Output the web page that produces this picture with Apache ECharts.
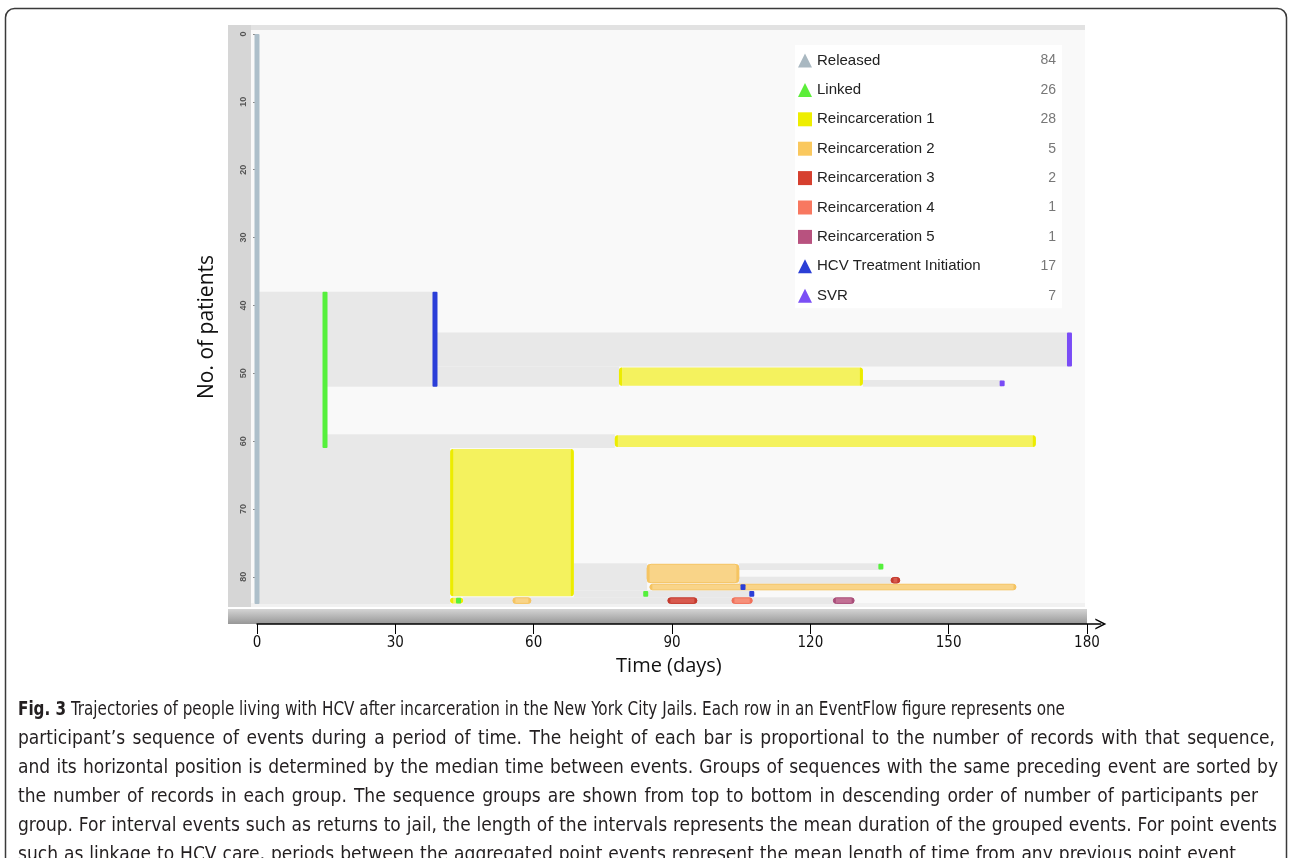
<!DOCTYPE html>
<html>
<head>
<meta charset="utf-8">
<script src="https://cdn.jsdelivr.net/npm/echarts@6/dist/echarts.min.js"></script>
<style>
html,body{margin:0;padding:0;background:#fff}
#wrap{position:relative;width:1292px;height:858px;overflow:hidden}
#c{position:absolute;left:0;top:0;width:1292px;height:858px}
.cap{position:absolute;left:18px;font-family:"DejaVu Sans Condensed","Open Sans",sans-serif;font-size:19px;line-height:22px;
  color:#231f20;transform-origin:0 0;white-space:normal}
.cap.j{text-align:justify;text-align-last:justify}
.cap b{font-weight:bold}
</style>
</head>
<body>
<div id="wrap"><div id="c"></div></div>
<script>
// ---------- data ----------
const eventNames = ['Released', 'Linked', 'Reincarceration 1', 'Reincarceration 2', 'Reincarceration 3',
  'Reincarceration 4', 'Reincarceration 5', 'HCV Treatment Initiation', 'SVR'];
const eventCounts = [84, 26, 28, 5, 2, 1, 1, 17, 7];
const eventIcons = ['triangle', 'triangle', 'rect', 'rect', 'rect', 'rect', 'rect', 'triangle', 'triangle'];

// point events: [day, firstRow, lastRow]
const releasedPts = [[0, 0, 84]];
const linkedPts = [[14.75, 38, 61], [135.3, 78, 79], [84.3, 82, 83], [43.7, 83, 84]];
const hcvPts = [[38.6, 38, 52], [105.4, 81, 82], [107.3, 82, 83]];
const svrPts = [[176.2, 44, 49], [161.6, 51, 52]];

// interval events: [startDay, endDay, firstRow, lastRow]
const reinc1 = [[78.5, 131.4, 49, 52], [77.6, 168.9, 59, 61], [41.9, 68.7, 61, 83], [41.9, 44.7, 83, 84]];
const reinc2 = [[84.6, 104.5, 78, 81], [85.2, 164.6, 81, 82], [55.5, 59.4, 83, 84]];
const reinc3 = [[137.5, 139.4, 80, 81], [89.1, 95.4, 83, 84]];
const reinc4 = [[103, 107.4, 83, 84]];
const reinc5 = [[125, 129.5, 83, 84]];

// time between events (sequence background): [startDay, endDay, firstRow, lastRow]
const gaps = [
  [0, 14.75, 38, 61], [14.75, 38.6, 38, 52], [38.6, 176.2, 44, 49], [38.6, 78.5, 49, 52],
  [131.4, 161.6, 51, 52], [14.75, 77.6, 59, 61], [0, 41.9, 61, 84], [68.7, 84.6, 78, 82],
  [104.5, 135.3, 78, 79], [104.5, 137.5, 80, 81], [68.7, 107.3, 82, 83], [44.7, 125, 83, 84]
];

const dayTicks = [0, 30, 60, 90, 120, 150, 180];
const patientTicks = [0, 10, 20, 30, 40, 50, 60, 70, 80];

const captionLead = 'Fig. 3';
const captionLines = [
  'Trajectories of people living with HCV after incarceration in the New York City Jails. Each row in an EventFlow figure represents one',
  'participant\u2019s sequence of events during a period of time. The height of each bar is proportional to the number of records with that sequence,',
  'and its horizontal position is determined by the median time between events. Groups of sequences with the same preceding event are sorted by',
  'the number of records in each group. The sequence groups are shown from top to bottom in descending order of number of participants per',
  'group. For interval events such as returns to jail, the length of the intervals represents the mean duration of the grouped events. For point events',
  'such as linkage to HCV care, periods between the aggregated point events represent the mean length of time from any previous point event'
];

// ---------- styling ----------
const legendColors = ['#a9b8c1', '#5cee3a', '#eeee00', '#fac85e', '#d6402f', '#f87860', '#b8527f', '#2b3fd6', '#7b4ff5'];
const pointColors = ['#adbfca', '#55f03c', null, null, null, null, null, '#2a3ed8', '#7a4cf6'];
const intervalFill = { 2: '#f4f25e', 3: '#f9d488', 4: '#d85a4e', 5: '#f6907a', 6: '#c27094' };
const intervalEdge = { 2: '#ecec00', 3: '#f5c462', 4: '#c43a2e', 5: '#f0705a', 6: '#a94e7a' };
const axisFont = '"DejaVu Sans Condensed", "Open Sans", sans-serif';

// caption (justified lines like the printed figure caption)
const capLineWidths = [1200, 1257, 1260, 1240, 1259, 1218];
const capLineScale = [0.89, 1, 1, 1, 1, 1];
const wrap = document.getElementById('wrap');
captionLines.forEach(function (line, i) {
  const d = document.createElement('div');
  d.className = 'cap' + (i > 0 ? ' j' : '');
  d.style.top = (697 + i * 29) + 'px';
  d.style.width = (capLineWidths[i] / capLineScale[i]) + 'px';
  d.style.transform = 'scaleX(' + capLineScale[i] + ')';
  if (i === 0) {
    const b = document.createElement('b');
    b.textContent = captionLead;
    d.appendChild(b);
    d.appendChild(document.createTextNode(' ' + line));
  } else {
    d.textContent = line;
  }
  wrap.appendChild(d);
});

function pointRender(color) {
  return function (params, api) {
    const a = api.coord([api.value(0), api.value(1)]);
    const b = api.coord([api.value(0), api.value(2)]);
    const h = b[1] - a[1];
    const ins = h > 10 ? 0 : 0.5;
    return {
      type: 'rect',
      shape: { x: a[0] - 2.5, y: a[1] + ins, width: 5, height: h - 2 * ins, r: 1 },
      style: { fill: color }
    };
  };
}

function intervalRender(idx) {
  return function (params, api) {
    const a = api.coord([api.value(0), api.value(2)]);
    const b = api.coord([api.value(1), api.value(3)]);
    const h = b[1] - a[1];
    const ins = h > 10 ? 1 : 0.6;
    const x = a[0], y = a[1] + ins, w = b[0] - a[0], hh = h - 2 * ins;
    const r = Math.min(4, hh / 2);
    const ew = Math.min(idx === 2 ? 3 : 2.5, w / 2);
    return {
      type: 'group',
      children: [
        { type: 'rect', shape: { x: x, y: y, width: w, height: hh, r: r }, style: { fill: intervalFill[idx], stroke: idx === 2 ? null : intervalEdge[idx], lineWidth: idx === 2 ? 0 : 1 } },
        { type: 'rect', shape: { x: x, y: y, width: ew, height: hh, r: [r, 0, 0, r] }, style: { fill: intervalEdge[idx] } },
        { type: 'rect', shape: { x: x + w - ew, y: y, width: ew, height: hh, r: [0, r, r, 0] }, style: { fill: intervalEdge[idx] } }
      ]
    };
  };
}

function gapRender(params, api) {
  const a = api.coord([api.value(0), api.value(2)]);
  const b = api.coord([api.value(1), api.value(3)]);
  return {
    type: 'rect',
    shape: { x: a[0], y: a[1], width: b[0] - a[0], height: b[1] - a[1] },
    style: { fill: '#e8e8e8' }
  };
}

const pointData = { 0: releasedPts, 1: linkedPts, 7: hcvPts, 8: svrPts };
const intervalData = { 2: reinc1, 3: reinc2, 4: reinc3, 5: reinc4, 6: reinc5 };

const series = [{
  type: 'custom', name: 'gaps', coordinateSystem: 'cartesian2d', xAxisIndex: 0, yAxisIndex: 0,
  renderItem: gapRender, data: gaps, encode: { x: [0, 1], y: [2, 3] }, silent: true, z: 1
}];
eventNames.forEach(function (name, i) {
  if (pointData[i]) {
    series.push({
      type: 'custom', name: name, coordinateSystem: 'cartesian2d', xAxisIndex: 0, yAxisIndex: 0,
      renderItem: pointRender(pointColors[i]), data: pointData[i], encode: { x: 0, y: [1, 2] },
      itemStyle: { color: legendColors[i] }, silent: true, z: 3
    });
  } else {
    series.push({
      type: 'custom', name: name, coordinateSystem: 'cartesian2d', xAxisIndex: 0, yAxisIndex: 0,
      renderItem: intervalRender(i), data: intervalData[i], encode: { x: [0, 1], y: [2, 3] },
      itemStyle: { color: legendColors[i] }, silent: true, z: 2
    });
  }
});

const option = {
  animation: false,
  backgroundColor: '#ffffff',
  grid: [
    { left: 257, top: 34, width: 830, height: 570 },
    { left: 257, top: 623, width: 830 * 183 / 180, height: 1 }
  ],
  xAxis: [
    { gridIndex: 0, type: 'value', min: 0, max: 180, show: false },
    {
      gridIndex: 1, type: 'value', min: 0, max: 183, position: 'bottom',
      axisLine: { show: true, lineStyle: { color: '#000', width: 1.5 },
        symbol: ['none', 'path://M0,10 L5,0 L10,10 L8.6,10 L5,3 L1.4,10 Z'], symbolSize: [11, 13] },
      axisTick: { show: true, length: 10, customValues: dayTicks, lineStyle: { color: '#000', width: 1 } },
      axisLabel: { customValues: dayTicks, fontSize: 15, color: '#111', margin: 12, fontFamily: axisFont },
      splitLine: { show: false },
      name: 'Time (days)', nameLocation: 'middle', nameGap: 32,
      nameTextStyle: { fontSize: 20, color: '#111', fontFamily: 'Open Sans', padding: [0, 20, 0, 0] }
    }
  ],
  yAxis: [
    {
      gridIndex: 0, type: 'value', inverse: true, min: 0, max: 84, offset: 6,
      axisLine: { show: false },
      axisTick: { show: true, length: 4, customValues: patientTicks, lineStyle: { color: '#8a8a8a' } },
      axisLabel: { customValues: patientTicks, rotate: 90, fontSize: 9, fontWeight: 'bold', color: '#555', margin: 3, fontFamily: 'Liberation Sans' },
      splitLine: { show: false },
      name: 'No. of patients', nameLocation: 'middle', nameGap: 33,
      nameTextStyle: { fontSize: 21, color: '#111', fontFamily: 'Open Sans', padding: [0, 16, 0, 0] }
    },
    { gridIndex: 1, type: 'value', min: 0, max: 1, show: false }
  ],
  legend: {
    left: 795, top: 45, orient: 'vertical', backgroundColor: '#ffffff',
    padding: [8, 6, 5, 3], itemGap: 14.4, itemWidth: 14, itemHeight: 14, selectedMode: false,
    data: eventNames.map(function (n, i) { return { name: n, icon: eventIcons[i] }; }),
    formatter: function (name) { return '{n|' + name + '}{c|' + eventCounts[eventNames.indexOf(name)] + '}'; },
    textStyle: {
      rich: {
        n: { width: 209, fontSize: 15, color: '#222', fontFamily: 'Liberation Sans', lineHeight: 18 },
        c: { width: 30, align: 'right', fontSize: 14, color: '#777', fontFamily: 'Liberation Sans', lineHeight: 18 }
      }
    }
  },
  graphic: [
    { type: 'rect', z: -10, shape: { x: 5.5, y: 8.5, width: 1281, height: 858, r: 9 }, style: { fill: 'none', stroke: '#3a3a3a', lineWidth: 1.5 } },
    { type: 'rect', z: -9, shape: { x: 228, y: 25, width: 857, height: 5 }, style: { fill: '#e2e2e2' } },
    { type: 'rect', z: -9, shape: { x: 228, y: 25, width: 23, height: 582 }, style: { fill: '#d6d6d6' } },
    { type: 'rect', z: -9, shape: { x: 251, y: 30, width: 834, height: 573 }, style: { fill: '#f9f9f9' } },
    { type: 'rect', z: -9, shape: { x: 251, y: 603, width: 834, height: 4 }, style: { fill: '#f1f1f1' } },
    { type: 'rect', z: -9, shape: { x: 228, y: 609, width: 859, height: 15 },
      style: { fill: new echarts.graphic.LinearGradient(0, 0, 0, 1, [{ offset: 0, color: '#d4d4d4' }, { offset: 1, color: '#979797' }]) } }
  ],
  series: series
};

const chart = echarts.init(document.getElementById('c'), null, { renderer: 'canvas' });
chart.setOption(option);
</script>
</body>
</html>
